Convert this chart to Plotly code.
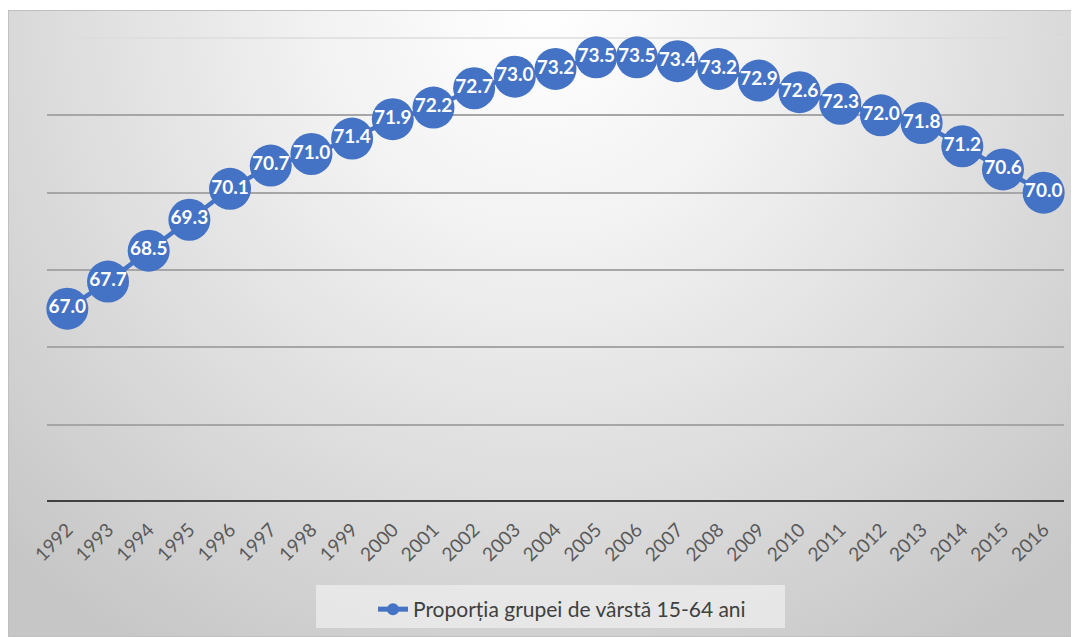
import base64
import plotly.graph_objects as go

years = [str(y) for y in range(1992, 2017)]
values = [67.0, 67.7, 68.5, 69.3, 70.1, 70.7, 71.0, 71.4, 71.9, 72.2, 72.7, 73.0, 73.2,
          73.5, 73.5, 73.4, 73.2, 72.9, 72.6, 72.3, 72.0, 71.8, 71.2, 70.6, 70.0]
series_name = "Proporția grupei de vârstă 15-64 ani"

# page has an 8px body margin; figure coordinates = page coordinates - 8
OFF = 8
W, H = 1071, 629
L, R, T, B = 47 - OFF, 15, 38 - OFF, 629 - (502 - OFF)
pw, ph = W - L - R, H - T - B

def px_x(p):
    return (p - OFF - L) / pw

def px_y(p):
    return (H - B - (p - OFF)) / ph

svg = (
    '<svg xmlns="http://www.w3.org/2000/svg" width="1071" height="627" viewBox="0 0 1071 627">'
    '<defs><radialGradient id="g" gradientUnits="userSpaceOnUse" cx="535" cy="0" r="760">'
    '<stop offset="0" stop-color="#ffffff"/><stop offset="0.3" stop-color="#f2f2f2"/>'
    '<stop offset="1" stop-color="#c6c6c6"/></radialGradient></defs>'
    '<rect x="0" y="0" width="1071" height="627" fill="url(#g)" stroke="#c0c0c0" stroke-width="2"/>'
    '</svg>'
)
src = "data:image/svg+xml;base64," + base64.b64encode(svg.encode()).decode()

fig = go.Figure()
fig.add_trace(go.Scatter(
    x=years, y=values, mode="lines+markers+text", name=series_name,
    line=dict(color="#4472C4", width=4.5),
    marker=dict(size=42, color="#4472C4"),
    text=[f"{v:.1f}" for v in values], textposition="middle center",
    textfont=dict(family="Lato", size=19, color="white", weight="bold"),
    cliponaxis=False,
))

fig.update_layout(
    width=W, height=H,
    margin=dict(l=L, r=R, t=T, b=B, autoexpand=False),
    paper_bgcolor="white", plot_bgcolor="rgba(0,0,0,0)",
    images=[dict(source=src, xref="paper", yref="paper",
                 x=px_x(8), y=px_y(10), sizex=(1079 - 8) / pw, sizey=(637 - 10) / ph,
                 xanchor="left", yanchor="top", sizing="stretch", layer="below")],
    shapes=[dict(type="rect", xref="paper", yref="paper",
                 x0=px_x(316), x1=px_x(785), y0=px_y(585), y1=px_y(628),
                 fillcolor="rgba(238,238,238,0.75)", line=dict(width=0), layer="below"),
            dict(type="line", xref="paper", yref="paper", x0=0, x1=1, y0=1, y1=1,
                 line=dict(color="#dcdcdc", width=1.5), layer="below")],
    showlegend=True,
    legend=dict(orientation="h", x=px_x(373), y=px_y(589), xanchor="left", yanchor="top",
                bgcolor="rgba(0,0,0,0)", font=dict(family="Lato", size=21, color="#404040"),
                itemsizing="constant"),
    xaxis=dict(type="category", range=[-0.5, len(years) - 0.5], showgrid=False,
               tickangle=-45, ticks="", ticklabelstandoff=12,
               tickfont=dict(family="Lato", size=19, color="#595959"),
               showline=False, zeroline=False),
    yaxis=dict(range=[62, 74], dtick=2, showticklabels=False, showgrid=True,
               gridcolor="#a6a6a6", gridwidth=1.5, zeroline=False, showline=False, ticks=""),
)
fig.add_shape(type="line", xref="paper", yref="y", x0=0, x1=1, y0=62, y1=62,
              line=dict(color="#404040", width=4))
fig.write_html("out.html")
